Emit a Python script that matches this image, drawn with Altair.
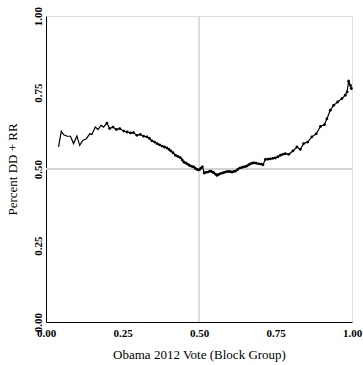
import altair as alt
import pandas as pd

obama_vote = [0.041, 0.050, 0.058, 0.069, 0.080, 0.090, 0.101, 0.110, 0.121, 0.132,
              0.143, 0.150, 0.161, 0.170, 0.180, 0.188, 0.199, 0.208, 0.219, 0.230,
              0.241, 0.254, 0.265, 0.276, 0.286, 0.297, 0.308, 0.319, 0.330, 0.338,
              0.346, 0.355, 0.363, 0.371, 0.379, 0.387, 0.395, 0.402, 0.408, 0.415,
              0.423, 0.431, 0.439, 0.445, 0.450, 0.456, 0.461, 0.467, 0.472, 0.478,
              0.483, 0.488, 0.493, 0.498, 0.502, 0.506, 0.511, 0.517, 0.522, 0.528,
              0.534, 0.539, 0.544, 0.548, 0.554, 0.559, 0.564, 0.570, 0.577, 0.583,
              0.590, 0.597, 0.603, 0.608, 0.614, 0.619, 0.626, 0.633, 0.640, 0.646,
              0.652, 0.657, 0.663, 0.668, 0.674, 0.679, 0.687, 0.695, 0.702, 0.709,
              0.717, 0.725, 0.733, 0.741, 0.749, 0.758, 0.766, 0.774, 0.782, 0.793,
              0.807, 0.820, 0.831, 0.842, 0.855, 0.869, 0.883, 0.897, 0.910, 0.918,
              0.929, 0.940, 0.953, 0.967, 0.978, 0.984, 0.989, 0.995, 0.998]
pct_dd_rr = [0.572, 0.623, 0.612, 0.607, 0.607, 0.583, 0.608, 0.577, 0.594, 0.599,
             0.615, 0.613, 0.637, 0.629, 0.643, 0.637, 0.650, 0.632, 0.637, 0.629,
             0.632, 0.624, 0.621, 0.618, 0.619, 0.610, 0.613, 0.607, 0.605, 0.600,
             0.592, 0.588, 0.583, 0.579, 0.575, 0.572, 0.569, 0.564, 0.559, 0.553,
             0.545, 0.541, 0.537, 0.530, 0.523, 0.520, 0.517, 0.513, 0.510, 0.508,
             0.507, 0.502, 0.499, 0.497, 0.498, 0.503, 0.507, 0.487, 0.489, 0.490,
             0.492, 0.493, 0.490, 0.488, 0.483, 0.479, 0.482, 0.485, 0.487, 0.489,
             0.491, 0.492, 0.491, 0.490, 0.492, 0.493, 0.498, 0.503, 0.505, 0.507,
             0.508, 0.510, 0.514, 0.517, 0.519, 0.520, 0.519, 0.517, 0.516, 0.514,
             0.531, 0.532, 0.533, 0.535, 0.536, 0.540, 0.545, 0.548, 0.550, 0.548,
             0.559, 0.572, 0.564, 0.583, 0.588, 0.605, 0.615, 0.639, 0.645, 0.664,
             0.692, 0.708, 0.719, 0.730, 0.741, 0.752, 0.787, 0.773, 0.763]
ref_x = [0.5]
ref_y = [0.5]
tick_vals = [0.0, 0.25, 0.5, 0.75, 1.0]

df = pd.DataFrame({"x": obama_vote, "y": pct_dd_rr})
FONT = "Liberation Serif"

xscale = alt.Scale(domain=[0, 1], nice=False, zero=False)
yscale = alt.Scale(domain=[0, 1], nice=False, zero=False)

xaxis = alt.Axis(title="Obama 2012 Vote (Block Group)", values=tick_vals, format=".2f",
                 grid=False, ticks=False, labelFont=FONT, labelFontSize=11,
                 labelFontWeight="bold", labelColor="#000", labelPadding=5,
                 titleFont=FONT, titleFontSize=13, titleFontWeight="normal",
                 titleColor="#000", titlePadding=10, domainColor="#000",
                 labelFlush=False, labelOverlap=False)
yaxis = alt.Axis(title="Percent DD + RR", values=tick_vals, format=".2f",
                 grid=False, ticks=False, labelFont=FONT, labelFontSize=11,
                 labelFontWeight="bold", labelColor="#000", labelAngle=270,
                 labelAlign="center", labelBaseline="bottom", labelPadding=3,
                 titleFont=FONT, titleFontSize=13, titleFontWeight="normal",
                 titleColor="#000", titlePadding=13, domainColor="#000",
                 labelFlush=False, labelOverlap=False)

vline = alt.Chart(pd.DataFrame({"x": ref_x})).mark_rule(color="#d3d3d3", strokeWidth=1.5).encode(
    x=alt.X("x:Q", scale=xscale, axis=xaxis))
hline = alt.Chart(pd.DataFrame({"y": ref_y})).mark_rule(color="#d3d3d3", strokeWidth=2).encode(
    y=alt.Y("y:Q", scale=yscale, axis=yaxis))

line = alt.Chart(df).mark_line(color="#000", strokeWidth=1.2).encode(
    x=alt.X("x:Q", scale=xscale, axis=xaxis),
    y=alt.Y("y:Q", scale=yscale, axis=yaxis))
pts = alt.Chart(df).transform_filter("datum.x >= 0.19").mark_circle(
    color="#000", size=8, opacity=1).encode(
    x=alt.X("x:Q", scale=xscale, axis=xaxis),
    y=alt.Y("y:Q", scale=yscale, axis=yaxis))

chart = alt.layer(vline, hline, line, pts).properties(
    width=306, height=306,
    autosize=alt.AutoSizeParams(type="none"),
    padding={"left": 46, "top": 16, "right": 11, "bottom": 43},
).configure_view(stroke="#000", strokeWidth=1.2).configure(background="white")

chart.save("out.html", embed_options={"renderer": "svg", "actions": False})
